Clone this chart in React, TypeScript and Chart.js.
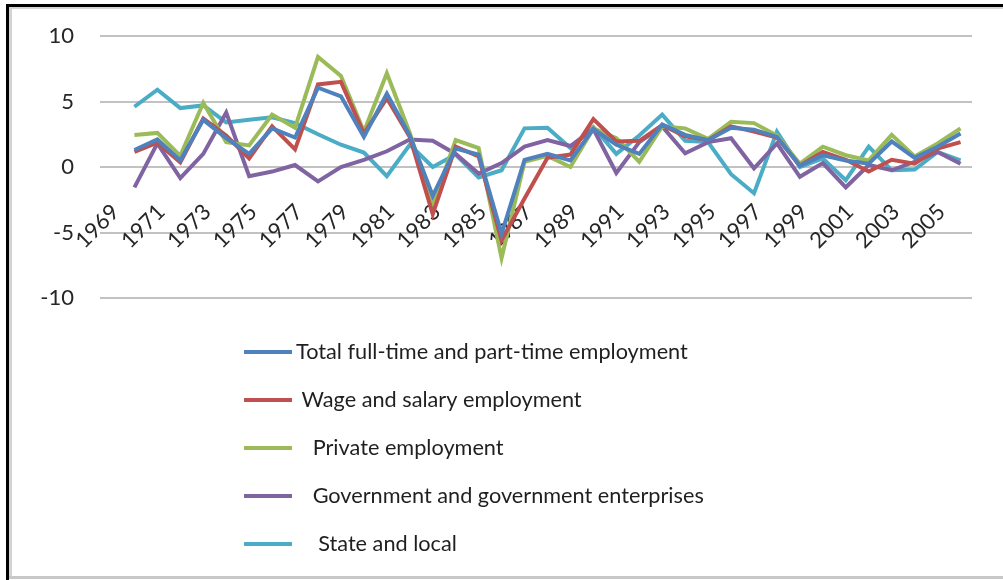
import React, { useEffect, useRef } from "react";
import { Chart, registerables } from "chart.js";

Chart.register(...registerables);

const years: string[] = [
  "1969", "1970", "1971", "1972", "1973", "1974", "1975", "1976", "1977", "1978",
  "1979", "1980", "1981", "1982", "1983", "1984", "1985", "1986", "1987", "1988",
  "1989", "1990", "1991", "1992", "1993", "1994", "1995", "1996", "1997", "1998",
  "1999", "2000", "2001", "2002", "2003", "2004", "2005", "2006",
];

const seriesNames: string[] = [
  "Total full-time and part-time employment",
  " Wage and salary employment",
  "   Private employment",
  "   Government and government enterprises",
  "    State and local",
];

const seriesColors: string[] = ["#4F81BD", "#C0504D", "#9BBB59", "#8064A2", "#4BACC6"];

const totalEmployment: (number | null)[] = [
  null, 1.3, 2.1, 0.5, 3.6, 2.2, 1.0, 2.95, 2.25, 6.05,
  5.4, 2.3, 5.6, 2.4, -2.2, 1.4, 0.95, -5.1, 0.55, 1.0,
  0.5, 2.9, 1.7, 1.0, 3.25, 2.45, 2.05, 3.0, 2.85, 2.3,
  0.1, 0.9, 0.5, 0.25, 1.95, 0.7, 1.55, 2.55,
];

const wageSalary: (number | null)[] = [
  null, 1.15, 1.85, 0.35, 3.7, 2.4, 0.65, 3.1, 1.35, 6.3,
  6.5, 2.55, 5.25, 2.3, -3.6, 1.55, 0.8, -5.6, -2.4, 0.7,
  0.95, 3.65, 1.95, 2.0, 3.2, 2.35, 2.05, 3.1, 2.7, 2.25,
  0.1, 1.15, 0.55, -0.35, 0.55, 0.25, 1.4, 1.9,
];

const privateEmployment: (number | null)[] = [
  null, 2.45, 2.6, 0.85, 4.9, 1.9, 1.65, 4.0, 3.0, 8.4,
  6.95, 2.7, 7.15, 2.6, -2.85, 2.05, 1.45, -6.95, 0.4, 0.85,
  0.0, 2.95, 2.2, 0.4, 3.1, 2.95, 2.15, 3.45, 3.35, 2.4,
  0.25, 1.55, 0.9, 0.5, 2.45, 0.8, 1.8, 2.95,
];

const government: (number | null)[] = [
  null, -1.55, 1.8, -0.85, 1.0, 4.15, -0.7, -0.35, 0.15, -1.1,
  0.0, 0.55, 1.2, 2.1, 2.0, 1.0, -0.5, 0.3, 1.55, 2.05,
  1.6, 2.9, -0.45, 1.9, 3.1, 1.05, 1.9, 2.2, -0.1, 1.8,
  -0.75, 0.3, -1.55, 0.15, -0.25, 0.4, 1.15, 0.25,
];

const stateLocal: (number | null)[] = [
  null, 4.6, 5.9, 4.5, 4.7, 3.4, 3.6, 3.8, 3.35, 2.5,
  1.7, 1.1, -0.7, 1.7, 0.0, 0.95, -0.8, -0.25, 2.95, 3.0,
  1.45, 3.05, 1.0, 2.4, 4.0, 2.0, 1.9, -0.55, -2.0, 2.7,
  0.0, 0.65, -1.0, 1.55, -0.25, -0.2, 1.15, 0.5,
];

const seriesValues = [totalEmployment, wageSalary, privateEmployment, government, stateLocal];

const yTicks: number[] = [-10, -5, 0, 5, 10];

const FONT = "Lato, 'DejaVu Sans', sans-serif";

const verticalLegend = {
  id: "verticalLegend",
  afterDraw(chart: any) {
    const ctx = chart.ctx as CanvasRenderingContext2D;
    ctx.save();
    chart.data.datasets.forEach((ds: any, i: number) => {
      const y = 352 + i * 48;
      ctx.strokeStyle = ds.borderColor;
      ctx.lineWidth = 4;
      ctx.lineCap = "butt";
      ctx.beginPath();
      ctx.moveTo(244, y);
      ctx.lineTo(292, y);
      ctx.stroke();
      ctx.fillStyle = "#1f1f1f";
      ctx.font = `21.7px ${FONT}`;
      ctx.textAlign = "left";
      ctx.textBaseline = "middle";
      ctx.fillText(ds.label, 296, y);
    });
    ctx.restore();
  },
};

export default function App() {
  const canvasRef = useRef<HTMLCanvasElement | null>(null);

  useEffect(() => {
    const canvas = canvasRef.current;
    if (!canvas) return;
    const chart = new Chart(canvas, {
      type: "line",
      data: {
        labels: years,
        datasets: seriesNames.map((name, i) => ({
          label: name,
          data: seriesValues[i],
          borderColor: seriesColors[i],
          backgroundColor: seriesColors[i],
          borderWidth: 4,
          pointRadius: 0,
          tension: 0,
          fill: false,
        })),
      },
      options: {
        animation: false,
        responsive: false,
        maintainAspectRatio: false,
        layout: { padding: { left: 0, right: 31, top: 36, bottom: 282 } },
        plugins: {
          legend: { display: false },
          tooltip: { enabled: false },
        },
        scales: {
          x: {
            type: "category",
            position: { y: 0 } as any,
            offset: true,
            grid: { display: false, drawTicks: false },
            border: { display: false },
            afterFit: (s: any) => {
              s.paddingLeft = 0;
              s.paddingRight = 0;
              s.paddingTop = 0;
              s.paddingBottom = 0;
            },
            ticks: {
              autoSkip: false,
              minRotation: 45,
              maxRotation: 45,
              padding: 32,
              labelOffset: 4,
              color: "#262626",
              font: { family: FONT, size: 22 },
              callback: (_v: any, i: number) => (i % 2 === 0 ? years[i] : ""),
            },
          },
          y: {
            min: -10,
            max: 10,
            afterFit: (s: any) => {
              s.width = 100;
              s.paddingTop = 0;
              s.paddingBottom = 0;
            },
            afterBuildTicks: (s: any) => {
              s.ticks = yTicks.map((v) => ({ value: v }));
            },
            grid: { color: "#c2c2c2", lineWidth: 2, drawTicks: false },
            border: { display: false },
            ticks: {
              padding: 26,
              color: "#262626",
              font: { family: FONT, size: 22 },
            },
          },
        },
      },
      plugins: [verticalLegend],
    });
    return () => chart.destroy();
  }, []);

  return (
    <div style={{ position: "absolute", left: 0, top: 0, width: 1003, height: 580, background: "#fff", overflow: "hidden" }}>
      <div style={{ position: "absolute", left: 6, top: 4, width: 997, height: 3, background: "#000" }} />
      <div style={{ position: "absolute", left: 6, top: 4, width: 3, height: 576, background: "#000" }} />
      <div style={{ position: "absolute", left: 9, top: 7, width: 994, height: 2, background: "#d4d4d4" }} />
      <div style={{ position: "absolute", left: 9, top: 7, width: 3, height: 570, background: "#d4d4d4" }} />
      <div style={{ position: "absolute", left: 9, top: 576, width: 994, height: 3, background: "#c8c8c8" }} />
      <canvas ref={canvasRef} width={1003} height={580} style={{ position: "absolute", left: 0, top: 0, display: "block" }} />
    </div>
  );
}
